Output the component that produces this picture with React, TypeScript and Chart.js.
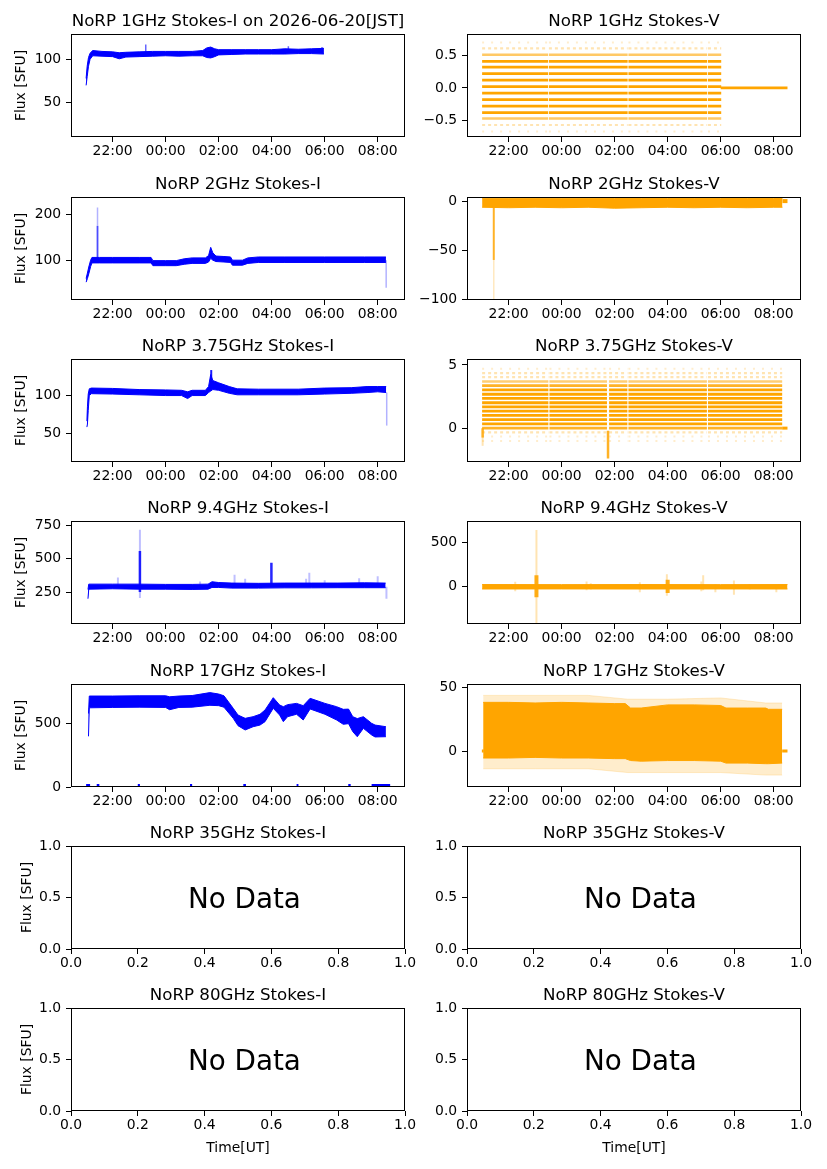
import React, { useEffect, useRef } from 'react';
import { Chart, registerables } from 'chart.js';

Chart.register(...registerables);
Chart.defaults.font.family = '"DejaVu Sans", sans-serif';
Chart.defaults.color = '#000';

// ---------------- ticks ----------------
const TIME_MIN = 20.43;
const TIME_MAX = 33.03;
const timeTicks = [22, 24, 26, 28, 30, 32];
const timeTickLabels = ['22:00', '00:00', '02:00', '04:00', '06:00', '08:00'];
const unitXTicks = [0, 0.2, 0.4, 0.6, 0.8, 1.0];
const unitXTickLabels = ['0.0', '0.2', '0.4', '0.6', '0.8', '1.0'];
const unitYTicks = [0, 0.5, 1.0];
const unitYTickLabels = ['0.0', '0.5', '1.0'];

// ---------------- 1 GHz ----------------
const i1Time = [21.0, 21.04, 21.09, 21.15, 21.25, 21.6, 22.0, 22.25, 22.5, 23.0, 23.5, 24.0, 24.5, 25.0, 25.4, 25.55, 25.7, 25.85, 26.0, 26.5, 27.0, 27.5, 28.0, 28.5, 29.0, 29.5, 29.97];
const i1Low = [70, 80, 92, 100, 104, 103.5, 103, 100.5, 102.5, 103, 103.5, 104, 103.5, 104, 104, 102, 101.5, 103, 105, 105.5, 106, 106, 106, 106, 106.5, 106.5, 106];
const i1High = [78, 92, 102, 107, 110, 109, 108.5, 107.5, 108, 108.5, 109, 109, 109, 109, 110, 113, 114, 112, 111, 111, 111, 111, 111, 112, 111.5, 112, 112.5];
const i1SpikeTime = [23.25, 28.63, 29.9];
const i1SpikeLow = [108, 110, 110];
const i1SpikeHigh = [117, 115, 114];

const v1Solid = [0.41, 0.32, 0.22, 0.12, 0.02, -0.08, -0.18, -0.28, -0.38];
const v1Mid = [0.51, -0.47];
const v1Faint = [0.61, -0.57];
const v1Sparse = [0.70, -0.67];
const v1SegStart = [21.0, 23.52, 26.52, 29.52];
const v1SegEnd = [23.49, 26.49, 29.49, 30.02];
const v1TailStart = [30.0];
const v1TailEnd = [32.52];
const v1TailLevel = [0.0];

// ---------------- 2 GHz ----------------
const i2Time = [21.0, 21.05, 21.1, 21.17, 21.22, 21.5, 22.0, 23.0, 23.45, 23.52, 24.0, 24.4, 24.7, 25.0, 25.5, 25.62, 25.7, 25.78, 25.9, 26.2, 26.45, 26.52, 26.9, 27.1, 27.5, 28.5, 30.0, 31.5, 32.31];
const i2Low = [52, 60, 70, 86, 94, 94, 94, 94, 94, 88, 88, 88, 91, 93, 93, 96, 104, 100, 97, 96, 95, 89, 89, 93, 95, 95, 95, 95, 95];
const i2High = [60, 72, 85, 100, 106, 106, 106, 106, 106, 99, 99, 99, 103, 105, 105, 110, 128, 116, 109, 108, 107, 100, 100, 105, 107, 107, 107, 107, 107];
const i2SpikeTime = [21.43];
const i2SpikeLow = [104];
const i2SpikeHigh = [175];
const i2FaintTime = [21.43, 32.32];
const i2FaintLow = [175, 40];
const i2FaintHigh = [215, 100];

const v2Time = [21.0, 22.0, 23.0, 24.0, 25.0, 26.0, 27.0, 28.0, 29.0, 30.0, 31.0, 32.0, 32.33];
const v2Low = [-6, -6.5, -6, -6.5, -6, -7, -6.5, -6, -6.5, -6, -6.5, -6, -6];
const v2High = [3.3, 3.3, 3.2, 3.3, 3.2, 3.0, 3.0, 3.0, 3.0, 3.0, 3.0, 3.0, 3.0];
const v2TailStart = [32.33];
const v2TailEnd = [32.52];
const v2TailLevel = [0.3];
const v2SpikeTime = [21.44];
const v2SpikeLow = [-60];
const v2SpikeHigh = [-5];
const v2FaintTime = [21.44];
const v2FaintLow = [-100];
const v2FaintHigh = [-60];

// ---------------- 3.75 GHz ----------------
const i3Time = [21.03, 21.05, 21.08, 21.12, 21.2, 22.0, 23.0, 24.0, 24.6, 24.83, 25.0, 25.5, 25.62, 25.7, 25.78, 26.0, 26.4, 26.7, 27.5, 29.0, 30.0, 31.0, 31.6, 32.0, 32.32];
const i3Low = [58, 62, 80, 100, 102.5, 102, 101, 100, 100, 96, 100, 100, 104, 106, 108, 107, 103, 101, 101, 101, 102, 103, 104, 105, 104];
const i3High = [66, 85, 102, 109, 110, 109.5, 108, 107.5, 107, 105, 107, 107, 112, 128, 120, 117, 112, 109, 108.5, 108.5, 110, 110.5, 112, 112, 112];
const i3SpikeTime = [25.72];
const i3SpikeLow = [110];
const i3SpikeHigh = [134];
const i3FaintTime = [32.34];
const i3FaintLow = [60];
const i3FaintHigh = [104];

const v3Solid = [0.34, 0.67, 1.01, 1.34, 1.68, 2.01, 2.35, 2.68, 3.02];
const v3Dense = [3.36, 0.0];
const v3Mid = [3.69];
const v3Faint = [4.03, 4.36, -0.34];
const v3Sparse = [4.70, -0.67, -1.01];
const v3SegStart = [21.0, 23.54, 25.79, 26.52, 29.52];
const v3SegEnd = [23.5, 25.71, 26.48, 29.48, 32.32];
const v3TailStart = [32.32];
const v3TailEnd = [32.52];
const v3TailLevel = [0.0];
const v3SpikeTime = [25.75, 21.02];
const v3SpikeLow = [-2.4, -0.75];
const v3SpikeHigh = [-0.2, 0.0];
const v3FaintTime = [21.02];
const v3FaintLow = [-1.4];
const v3FaintHigh = [-0.7];

// ---------------- 9.4 GHz ----------------
const i4Time = [21.07, 21.1, 22.0, 23.0, 24.0, 25.0, 25.6, 25.75, 26.0, 26.5, 27.5, 28.5, 29.5, 30.5, 31.5, 32.3];
const i4Low = [200, 272, 275, 272, 272, 270, 272, 285, 285, 280, 280, 282, 282, 283, 283, 283];
const i4High = [270, 310, 310, 310, 308, 308, 310, 328, 322, 318, 316, 318, 318, 318, 320, 318];
const i4SpikeTime = [23.03, 27.99];
const i4SpikeLow = [250, 300];
const i4SpikeHigh = [560, 470];
const i4FaintTime = [23.03, 32.33, 22.2, 25.3, 26.6, 27.0, 29.3, 29.42, 30.0, 31.3, 32.0];
const i4FaintLow = [205, 200, 300, 300, 300, 300, 300, 300, 300, 300, 300];
const i4FaintHigh = [720, 290, 360, 330, 380, 350, 350, 395, 340, 355, 370];

const v4Time = [21.0, 24.0, 27.0, 30.0, 32.52];
const v4Low = [-25, -24, -25, -24, -25];
const v4High = [25, 24, 25, 24, 25];
const v4SpikeTime = [23.05, 28.0];
const v4SpikeLow = [-117, -70];
const v4SpikeHigh = [128, 80];
const v4FaintTime = [23.05, 22.25, 24.94, 25.1, 26.95, 27.97, 29.27, 29.34, 29.8, 30.5, 31.1, 32.1];
const v4FaintLow = [-417, -50, -40, -30, -60, -100, -50, -40, -60, -90, -30, -60];
const v4FaintHigh = [635, 55, 60, 40, 50, 140, 60, 128, 30, 70, 30, 20];

// ---------------- 17 GHz ----------------
const i5Time = [21.09, 21.12, 22.0, 23.0, 24.0, 24.15, 24.5, 25.0, 25.67, 26.0, 26.2, 26.55, 26.73, 27.0, 27.3, 27.56, 27.75, 28.06, 28.3, 28.44, 28.6, 28.94, 29.19, 29.45, 30.01, 30.45, 30.7, 30.9, 31.06, 31.23, 31.46, 31.77, 31.9, 32.31];
const i5Low = [400, 625, 628, 630, 628, 610, 628, 630, 645, 642, 630, 542, 484, 450, 476, 489, 516, 621, 568, 516, 555, 574, 529, 616, 574, 529, 495, 500, 437, 397, 463, 411, 395, 397];
const i5High = [580, 718, 718, 720, 720, 712, 718, 722, 745, 734, 720, 621, 568, 542, 555, 574, 608, 705, 647, 634, 650, 660, 642, 700, 660, 634, 613, 615, 555, 540, 555, 503, 489, 476];
const i5ZeroStart = [21.0, 21.4, 22.95, 24.92, 26.93, 28.94, 30.89, 31.77];
const i5ZeroEnd = [21.15, 21.5, 23.03, 25.0, 27.03, 29.01, 30.98, 32.47];
const i5ZeroLevel = [0];

const v5Time = [21.04, 22.0, 23.0, 24.0, 25.0, 26.0, 26.4, 26.6, 27.0, 28.0, 29.0, 30.0, 30.2, 31.0, 31.7, 31.8, 32.32];
const v5Low = [-5.5, -5.5, -5, -5.5, -5.5, -6, -6, -7.5, -8, -7.5, -7.5, -8, -9.5, -9.5, -10, -10, -9.5];
const v5High = [38.5, 38.5, 38, 38.5, 38, 37.5, 37.5, 34, 34, 36.5, 36.5, 36, 34, 34, 34, 33, 33];
const v5FaintTime = [21.04, 23.0, 25.0, 26.5, 28.0, 30.0, 31.7, 32.32];
const v5FaintLow = [-14, -14, -14, -17, -17, -17, -19, -19];
const v5FaintHigh = [44, 44, 44, 41, 41, 42, 38, 38];
const v5TailStart = [20.99, 32.32];
const v5TailEnd = [21.06, 32.52];
const v5TailLevel = [0];

// ---------------- helpers ----------------
const BLUE = [0, 0, 255];
const ORANGE = [255, 165, 0];
const rgba = (c: number[], a = 1) => `rgba(${c[0]},${c[1]},${c[2]},${a})`;

function band(t: number[], lo: number[], hi: number[], c: number[], a = 1): any[] {
  const colr = rgba(c, a);
  return [
    { data: t.map((x, i) => ({ x, y: hi[i] })), borderColor: colr, borderWidth: 1, fill: false },
    { data: t.map((x, i) => ({ x, y: lo[i] })), borderColor: colr, borderWidth: 1, backgroundColor: colr, fill: '-1' },
  ];
}

function spikes(t: number[], lo: number[], hi: number[], c: number[], a: number, w: number): any {
  const data: any[] = [];
  t.forEach((x, i) => {
    data.push({ x, y: lo[i] }, { x, y: hi[i] }, { x, y: null });
  });
  return { data, borderColor: rgba(c, a), borderWidth: w, fill: false };
}

function levels(levs: number[], s0: number[], s1: number[], c: number[], a: number, w: number, dash: number[] = []): any {
  const data: any[] = [];
  levs.forEach((L) => {
    s0.forEach((x0, i) => {
      data.push({ x: x0, y: L }, { x: s1[i], y: L }, { x: s1[i], y: null });
    });
  });
  return { data, borderColor: rgba(c, a), borderWidth: w, borderDash: dash, fill: false };
}

const M = '\u2212';

type Spec = {
  row: number;
  col: number;
  title: string;
  yMin: number;
  yMax: number;
  yTicks: number[];
  yLabels: string[];
  ylabelX?: number;
  xlabel?: boolean;
  noData?: boolean;
  datasets: any[];
};

const PANELS: Spec[] = [
  {
    row: 0, col: 0, title: 'NoRP 1GHz Stokes-I on 2026-06-20[JST]',
    yMin: 10.7, yMax: 129, yTicks: [50, 100], yLabels: ['50', '100'], ylabelX: 25.3,
    datasets: [
      ...band(i1Time, i1Low, i1High, BLUE),
      spikes(i1SpikeTime, i1SpikeLow, i1SpikeHigh, BLUE, 0.6, 1.5),
    ],
  },
  {
    row: 0, col: 1, title: 'NoRP 1GHz Stokes-V',
    yMin: -0.755, yMax: 0.83, yTicks: [-0.5, 0, 0.5], yLabels: [M + '0.5', '0.0', '0.5'],
    datasets: [
      levels(v1Sparse, v1SegStart, v1SegEnd, ORANGE, 0.2, 2, [2, 7]),
      levels(v1Faint, v1SegStart, v1SegEnd, ORANGE, 0.3, 2.2, [3, 3]),
      levels(v1Mid, v1SegStart, v1SegEnd, ORANGE, 0.6, 2.6),
      levels(v1Solid, v1SegStart, v1SegEnd, ORANGE, 1, 2.8),
      levels(v1TailLevel, v1TailStart, v1TailEnd, ORANGE, 1, 2.8),
    ],
  },
  {
    row: 1, col: 0, title: 'NoRP 2GHz Stokes-I',
    yMin: 13, yMax: 238, yTicks: [100, 200], yLabels: ['100', '200'], ylabelX: 25.3,
    datasets: [
      ...band(i2Time, i2Low, i2High, BLUE),
      spikes(i2SpikeTime, i2SpikeLow, i2SpikeHigh, BLUE, 0.7, 1.8),
      spikes(i2FaintTime, i2FaintLow, i2FaintHigh, BLUE, 0.3, 1.5),
    ],
  },
  {
    row: 1, col: 1, title: 'NoRP 2GHz Stokes-V',
    yMin: -101, yMax: 4.5, yTicks: [-100, -50, 0], yLabels: [M + '100', M + '50', '0'],
    datasets: [
      ...band(v2Time, v2Low, v2High, ORANGE),
      levels(v2TailLevel, v2TailStart, v2TailEnd, ORANGE, 1, 4),
      spikes(v2SpikeTime, v2SpikeLow, v2SpikeHigh, ORANGE, 0.85, 2),
      spikes(v2FaintTime, v2FaintLow, v2FaintHigh, ORANGE, 0.25, 1.5),
    ],
  },
  {
    row: 2, col: 0, title: 'NoRP 3.75GHz Stokes-I',
    yMin: 11.5, yMax: 148.7, yTicks: [50, 100], yLabels: ['50', '100'], ylabelX: 25.3,
    datasets: [
      ...band(i3Time, i3Low, i3High, BLUE),
      spikes(i3SpikeTime, i3SpikeLow, i3SpikeHigh, BLUE, 0.9, 2),
      spikes(i3FaintTime, i3FaintLow, i3FaintHigh, BLUE, 0.3, 1.5),
    ],
  },
  {
    row: 2, col: 1, title: 'NoRP 3.75GHz Stokes-V',
    yMin: -2.68, yMax: 5.47, yTicks: [0, 5], yLabels: ['0', '5'],
    datasets: [
      levels(v3Sparse, v3SegStart, v3SegEnd, ORANGE, 0.2, 2, [2, 7]),
      levels(v3Faint, v3SegStart, v3SegEnd, ORANGE, 0.3, 2.2, [3, 3]),
      levels(v3Mid, v3SegStart, v3SegEnd, ORANGE, 0.55, 2.6),
      levels(v3Dense, v3SegStart, v3SegEnd, ORANGE, 0.85, 2.8),
      levels(v3Solid, v3SegStart, v3SegEnd, ORANGE, 1, 2.8),
      levels(v3TailLevel, v3TailStart, v3TailEnd, ORANGE, 1, 3),
      spikes(v3FaintTime, v3FaintLow, v3FaintHigh, ORANGE, 0.3, 2),
      spikes(v3SpikeTime, v3SpikeLow, v3SpikeHigh, ORANGE, 0.85, 2.5),
    ],
  },
  {
    row: 3, col: 0, title: 'NoRP 9.4GHz Stokes-I',
    yMin: 10, yMax: 785, yTicks: [250, 500, 750], yLabels: ['250', '500', '750'], ylabelX: 25.3,
    datasets: [
      spikes(i4FaintTime, i4FaintLow, i4FaintHigh, BLUE, 0.25, 2),
      ...band(i4Time, i4Low, i4High, BLUE),
      spikes(i4SpikeTime, i4SpikeLow, i4SpikeHigh, BLUE, 0.85, 2.5),
    ],
  },
  {
    row: 3, col: 1, title: 'NoRP 9.4GHz Stokes-V',
    yMin: -417, yMax: 737, yTicks: [0, 500], yLabels: ['0', '500'],
    datasets: [
      spikes(v4FaintTime, v4FaintLow, v4FaintHigh, ORANGE, 0.3, 2),
      ...band(v4Time, v4Low, v4High, ORANGE),
      spikes(v4SpikeTime, v4SpikeLow, v4SpikeHigh, ORANGE, 0.9, 4),
    ],
  },
  {
    row: 4, col: 0, title: 'NoRP 17GHz Stokes-I',
    yMin: 0, yMax: 813, yTicks: [0, 500], yLabels: ['0', '500'], ylabelX: 25.3,
    datasets: [
      ...band(i5Time, i5Low, i5High, BLUE),
      levels(i5ZeroLevel, i5ZeroStart, i5ZeroEnd, BLUE, 1, 6),
    ],
  },
  {
    row: 4, col: 1, title: 'NoRP 17GHz Stokes-V',
    yMin: -28.4, yMax: 53, yTicks: [0, 50], yLabels: ['0', '50'],
    datasets: [
      ...band(v5FaintTime, v5FaintLow, v5FaintHigh, ORANGE, 0.2),
      ...band(v5Time, v5Low, v5High, ORANGE),
      levels(v5TailLevel, v5TailStart, v5TailEnd, ORANGE, 1, 3),
    ],
  },
  {
    row: 5, col: 0, title: 'NoRP 35GHz Stokes-I', noData: true,
    yMin: 0, yMax: 1, yTicks: unitYTicks, yLabels: unitYTickLabels, ylabelX: 30.7, datasets: [],
  },
  {
    row: 5, col: 1, title: 'NoRP 35GHz Stokes-V', noData: true,
    yMin: 0, yMax: 1, yTicks: unitYTicks, yLabels: unitYTickLabels, datasets: [],
  },
  {
    row: 6, col: 0, title: 'NoRP 80GHz Stokes-I', noData: true, xlabel: true,
    yMin: 0, yMax: 1, yTicks: unitYTicks, yLabels: unitYTickLabels, ylabelX: 30.7, datasets: [],
  },
  {
    row: 6, col: 1, title: 'NoRP 80GHz Stokes-V', noData: true, xlabel: true,
    yMin: 0, yMax: 1, yTicks: unitYTicks, yLabels: unitYTickLabels, datasets: [],
  },
];

// ---------------- layout ----------------
const AX_TOP = [34, 197, 359, 521, 684, 846, 1008];
const AX_H = 103;
const AX_W = 334;
const Y_AXIS_W = 71;
const TOP_PAD = 34;
const RIGHT_PAD = 18;
const X_AXIS_H = 40;
const CANVAS_LEFT = [0, 396];

const decor = {
  id: 'decor',
  afterDraw(chart: any, _args: any, opts: any) {
    const { ctx, chartArea: a } = chart;
    ctx.save();
    ctx.strokeStyle = '#000';
    ctx.lineWidth = 1;
    ctx.strokeRect(a.left + 0.5, a.top + 0.5, a.right - a.left - 1, a.bottom - a.top - 1);
    ctx.fillStyle = '#000';
    ctx.textBaseline = 'alphabetic';
    ctx.font = '16.67px "DejaVu Sans"';
    ctx.textAlign = 'center';
    ctx.fillText(opts.title, (a.left + a.right) / 2, a.top - 7.6);
    if (opts.noData) {
      ctx.font = '27.8px "DejaVu Sans"';
      ctx.textAlign = 'left';
      ctx.fillText('No Data', a.left + 0.35 * (a.right - a.left), (a.top + a.bottom) / 2 + 10.1);
    }
    ctx.font = '13.9px "DejaVu Sans"';
    if (opts.xlabel) {
      ctx.textAlign = 'center';
      ctx.fillText('Time[UT]', (a.left + a.right) / 2, a.bottom + 40.5);
    }
    if (opts.ylabelX) {
      ctx.translate(opts.ylabelX, (a.top + a.bottom) / 2);
      ctx.rotate(-Math.PI / 2);
      ctx.textAlign = 'center';
      ctx.fillText('Flux [SFU]', 0, 0);
    }
    ctx.restore();
  },
};

function Panel({ spec }: { spec: Spec }) {
  const ref = useRef<HTMLCanvasElement>(null);
  const extra = spec.xlabel ? 10 : 0;
  const W = Y_AXIS_W + AX_W + RIGHT_PAD;
  const H = TOP_PAD + AX_H + X_AXIS_H + extra;
  const left = CANVAS_LEFT[spec.col];
  const top = AX_TOP[spec.row] - TOP_PAD;

  useEffect(() => {
    const xT = spec.noData ? unitXTicks : timeTicks;
    const xL = spec.noData ? unitXTickLabels : timeTickLabels;
    const n = spec.datasets.length;
    const datasets = spec.datasets.map((d, i) => ({
      pointRadius: 0,
      tension: 0,
      borderCapStyle: 'butt',
      spanGaps: false,
      clip: 0,
      order: n - i,
      ...d,
    }));
    const grid = {
      display: true,
      drawOnChartArea: false,
      drawTicks: true,
      tickLength: 5,
      color: '#000',
      lineWidth: 1,
    };
    const chart = new Chart(ref.current as HTMLCanvasElement, {
      type: 'line',
      data: { datasets },
      options: {
        responsive: false,
        animation: false,
        events: [],
        layout: { padding: { top: TOP_PAD, right: RIGHT_PAD, bottom: extra, left: 0 } },
        plugins: {
          legend: { display: false },
          tooltip: { enabled: false },
          decor: { title: spec.title, noData: spec.noData, xlabel: spec.xlabel, ylabelX: spec.ylabelX },
        } as any,
        scales: {
          x: {
            type: 'linear',
            min: spec.noData ? 0 : TIME_MIN,
            max: spec.noData ? 1 : TIME_MAX,
            afterBuildTicks: (s: any) => {
              s.ticks = xT.map((v) => ({ value: v }));
            },
            afterFit: (s: any) => {
              s.height = X_AXIS_H;
            },
            ticks: {
              autoSkip: false,
              maxRotation: 0,
              minRotation: 0,
              padding: 1.5,
              font: { size: 13.9 },
              color: '#000',
              callback: (_v: any, i: number) => xL[i],
            },
            grid,
            border: { display: false },
          },
          y: {
            type: 'linear',
            min: spec.yMin,
            max: spec.yMax,
            afterBuildTicks: (s: any) => {
              s.ticks = spec.yTicks.map((v) => ({ value: v }));
            },
            afterFit: (s: any) => {
              s.width = Y_AXIS_W;
            },
            ticks: {
              autoSkip: false,
              padding: 4.8,
              font: { size: 13.9 },
              color: '#000',
              callback: (_v: any, i: number) => spec.yLabels[i],
            },
            grid,
            border: { display: false },
          },
        },
      } as any,
      plugins: [decor],
    });
    return () => chart.destroy();
  }, []);

  return (
    <canvas
      ref={ref}
      width={W}
      height={H}
      style={{ position: 'absolute', left, top, width: W, height: H }}
    />
  );
}

export default function App() {
  return (
    <div
      style={{
        position: 'absolute',
        left: 0,
        top: 0,
        width: 827,
        height: 1169,
        overflow: 'hidden',
        background: '#fff',
      }}
    >
      {PANELS.map((p, i) => (
        <Panel key={i} spec={p} />
      ))}
    </div>
  );
}
